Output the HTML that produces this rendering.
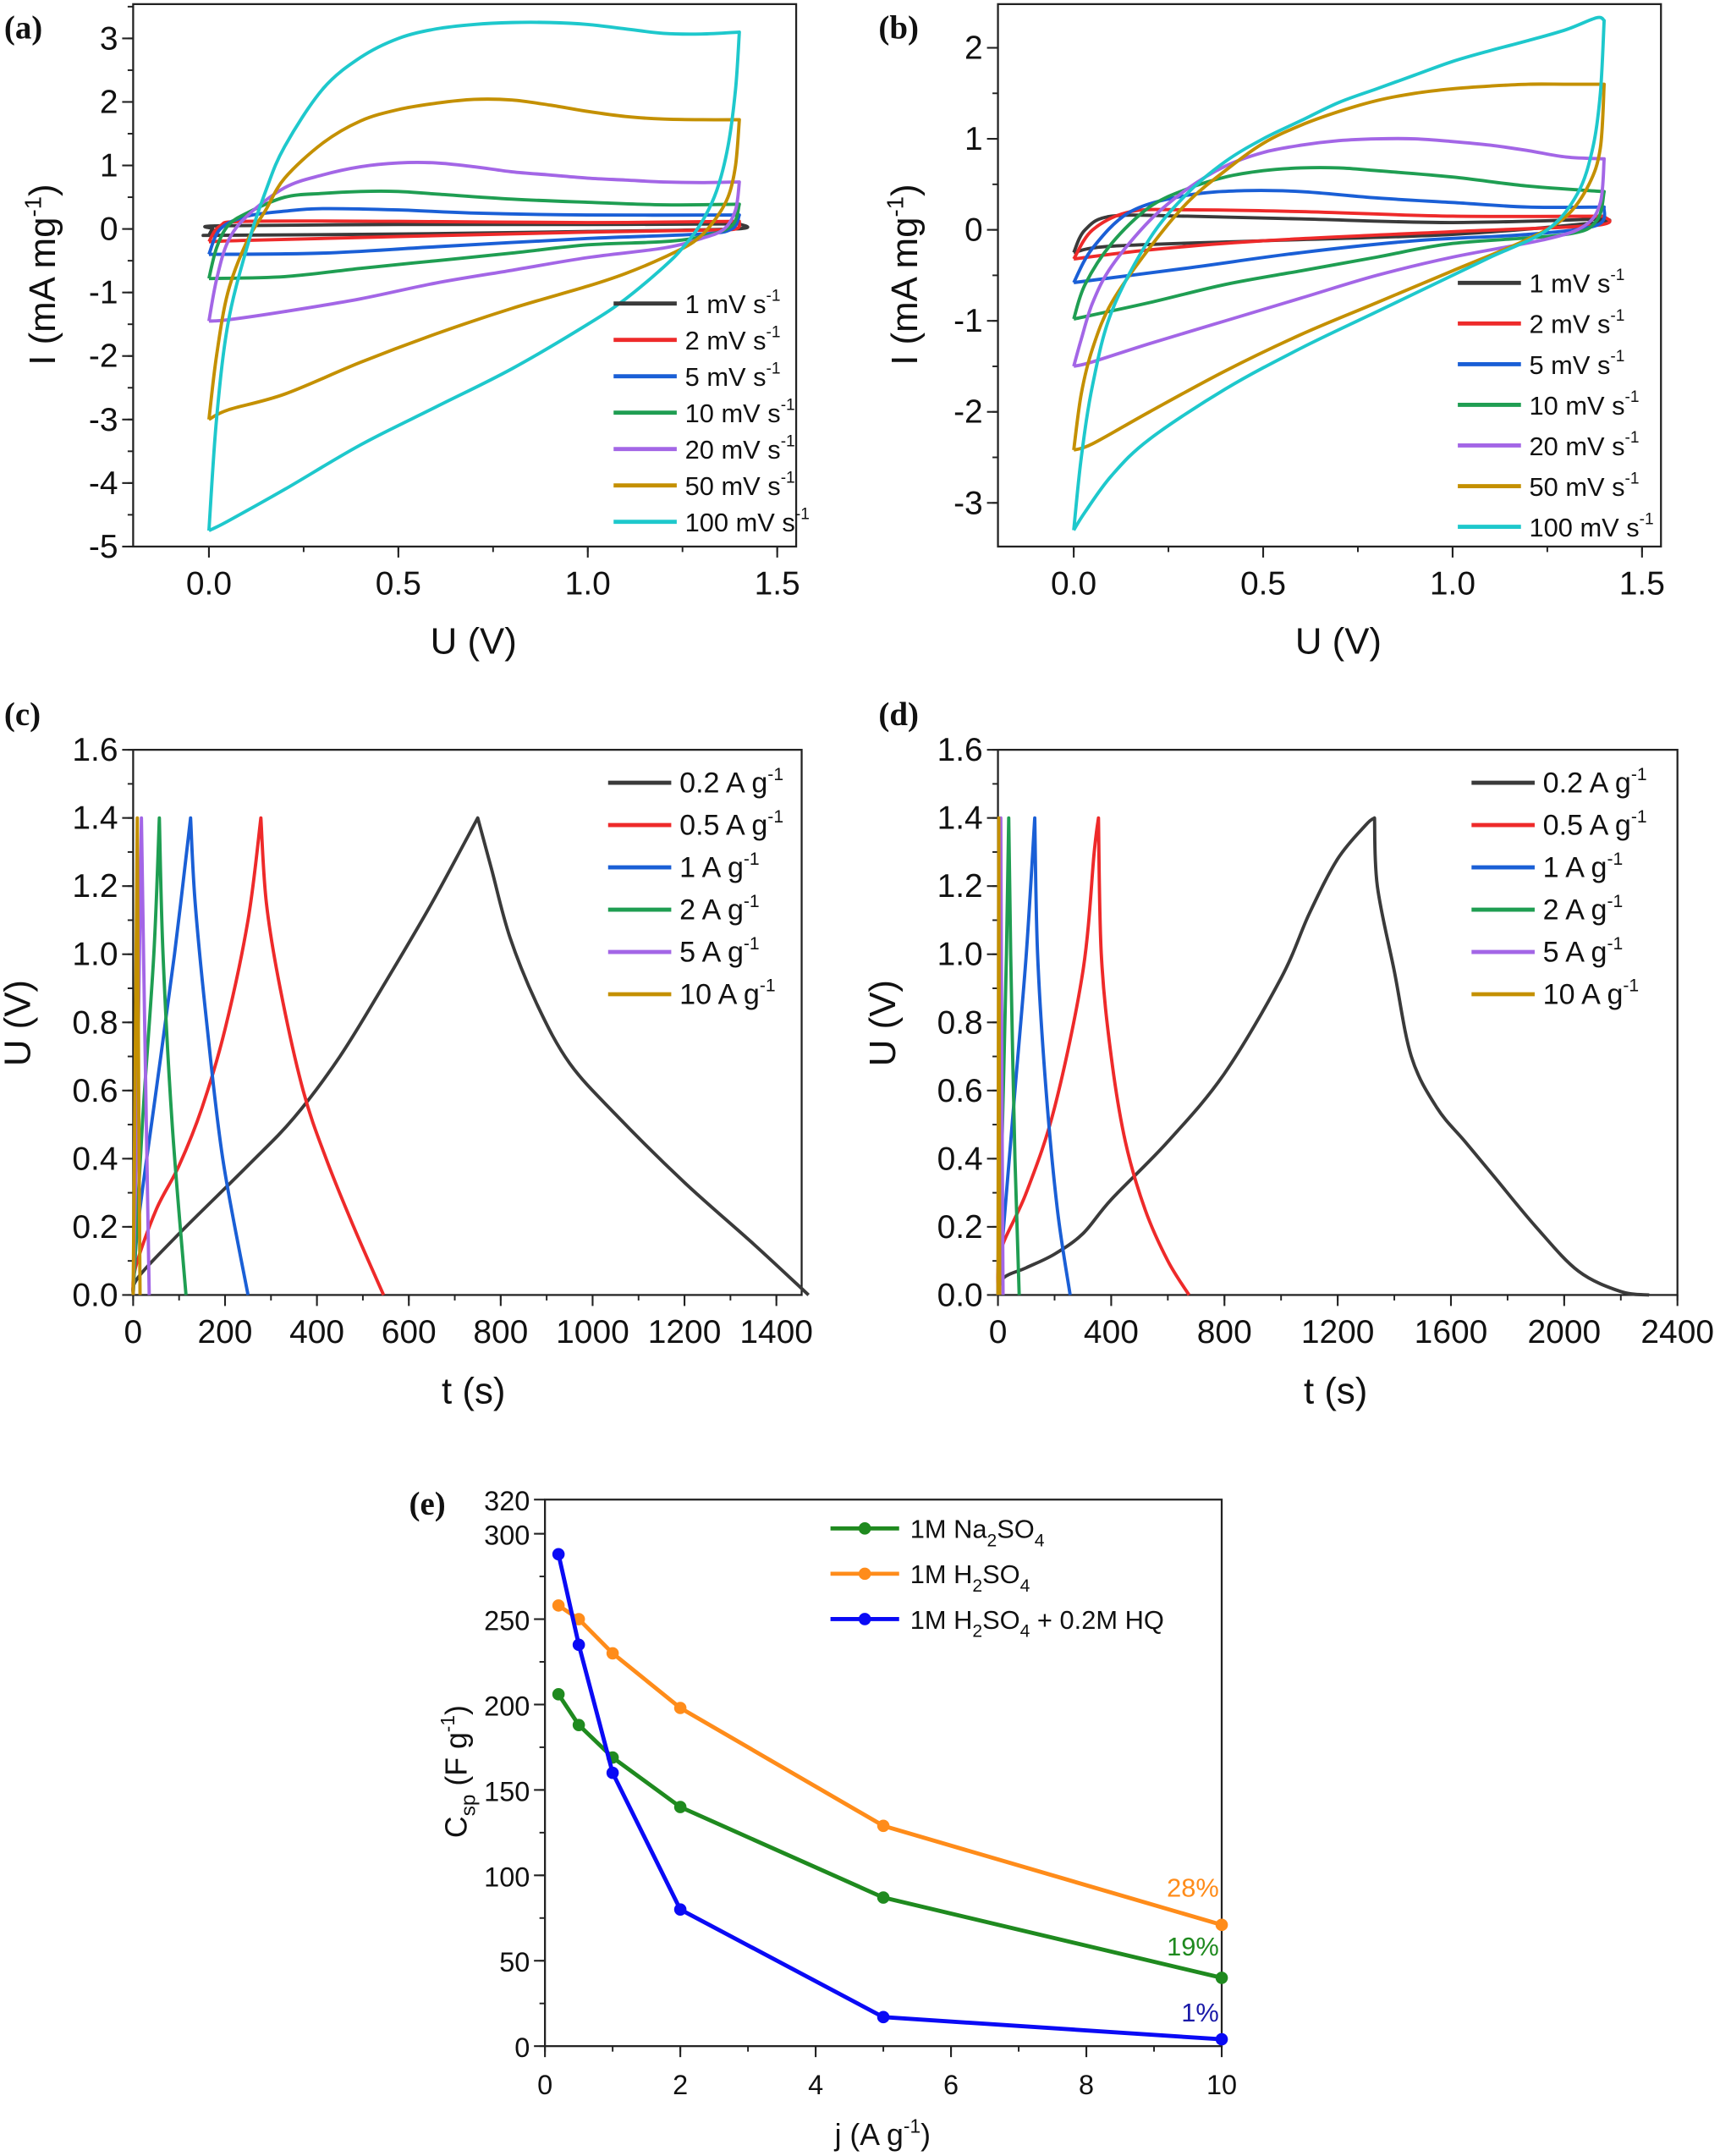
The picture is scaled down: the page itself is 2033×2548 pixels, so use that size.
<!DOCTYPE html>
<html><head><meta charset="utf-8">
<style>
html,body{margin:0;padding:0;background:#fff;}
svg{display:block;}
text{font-family:"Liberation Sans",Arial,sans-serif;fill:#111;}
.pl{font-family:"Liberation Serif",serif;font-weight:bold;font-size:24px;}
</style></head>
<body>
<svg id="fig" width="2033" height="2548" viewBox="0 0 1253 1570" preserveAspectRatio="none" xmlns="http://www.w3.org/2000/svg">
<text class="pl" x="3" y="28">(a)</text>
<text class="pl" x="640" y="28">(b)</text>
<text class="pl" x="3" y="528">(c)</text>
<text class="pl" x="640" y="528">(d)</text>
<text class="pl" x="298" y="1103">(e)</text>
</svg>
<script>
// ---------- data ----------
const cvLabels = ["1 mV s","2 mV s","5 mV s","10 mV s","20 mV s","50 mV s","100 mV s"];
const cvColors = ["#3a3a3a","#ee2a2a","#1a5fd6","#1f9e52","#a366e6","#c49000","#1ec8cc"];
const cvA_1 = [[0,-0.1],[0.01,0],[0.03,0.05],[0.5,0.07],[1.0,0.07],[1.4,0.08],[1.39,0],[1.0,-0.04],[0.5,-0.08],[0.03,-0.1],[0,-0.1]];
const cvA_2 = [[0,-0.2],[0.03,0.05],[0.1,0.12],[0.5,0.12],[1.0,0.1],[1.4,0.12],[1.39,0],[1.3,-0.02],[1.0,-0.05],[0.5,-0.12],[0.1,-0.18],[0,-0.2]];
const cvA_5 = [[0,-0.4],[0.03,0],[0.1,0.2],[0.2,0.28],[0.3,0.32],[0.5,0.3],[0.7,0.25],[1.0,0.22],[1.4,0.22],[1.38,0],[1.3,-0.08],[1.0,-0.15],[0.6,-0.28],[0.3,-0.38],[0,-0.4]];
const cvA_10 = [[0,-0.78],[0.02,-0.3],[0.05,0.05],[0.1,0.25],[0.2,0.5],[0.3,0.56],[0.4,0.59],[0.5,0.59],[0.6,0.55],[0.8,0.47],[1.0,0.42],[1.2,0.38],[1.4,0.39],[1.38,0.05],[1.3,-0.12],[1.2,-0.2],[1.0,-0.25],[0.8,-0.38],[0.6,-0.5],[0.4,-0.62],[0.2,-0.75],[0,-0.78]];
const cvA_20 = [[0,-1.45],[0.02,-0.8],[0.05,-0.2],[0.1,0.2],[0.2,0.65],[0.3,0.85],[0.4,0.98],[0.5,1.04],[0.6,1.04],[0.7,0.98],[0.8,0.9],[0.9,0.85],[1.0,0.8],[1.1,0.77],[1.2,0.74],[1.3,0.73],[1.4,0.74],[1.39,0.3],[1.36,0],[1.3,-0.15],[1.2,-0.3],[1.0,-0.45],[0.8,-0.65],[0.6,-0.85],[0.4,-1.1],[0.2,-1.3],[0.05,-1.43],[0,-1.45]];
const cvA_50 = [[0,-3.0],[0.02,-2.0],[0.05,-1.0],[0.1,-0.2],[0.15,0.3],[0.2,0.8],[0.3,1.35],[0.4,1.7],[0.5,1.88],[0.6,1.98],[0.7,2.04],[0.8,2.03],[0.9,1.95],[1.0,1.85],[1.1,1.77],[1.2,1.73],[1.3,1.72],[1.4,1.72],[1.39,1.0],[1.37,0.5],[1.33,0.1],[1.28,-0.2],[1.2,-0.45],[1.1,-0.7],[1.0,-0.9],[0.8,-1.25],[0.6,-1.65],[0.4,-2.1],[0.2,-2.6],[0.05,-2.85],[0,-3.0]];
const cvA_100 = [[0,-4.75],[0.02,-3.0],[0.05,-1.5],[0.1,-0.3],[0.15,0.6],[0.2,1.3],[0.3,2.2],[0.4,2.7],[0.5,3.0],[0.6,3.15],[0.7,3.22],[0.8,3.25],[0.9,3.25],[1.0,3.22],[1.1,3.15],[1.2,3.08],[1.3,3.07],[1.4,3.1],[1.39,2.2],[1.37,1.3],[1.34,0.6],[1.3,0.1],[1.25,-0.3],[1.2,-0.6],[1.1,-1.1],[1.0,-1.5],[0.8,-2.2],[0.6,-2.8],[0.4,-3.4],[0.2,-4.1],[0.05,-4.6],[0,-4.75]];
const cvB_1 = [[0,-0.25],[0.03,0],[0.1,0.15],[0.3,0.15],[0.6,0.12],[1.0,0.08],[1.4,0.12],[1.38,0.08],[1.0,-0.05],[0.5,-0.12],[0.1,-0.18],[0,-0.25]];
const cvB_2 = [[0,-0.32],[0.05,0],[0.15,0.2],[0.3,0.22],[0.6,0.2],[1.0,0.15],[1.4,0.15],[1.38,0.05],[1.0,-0.02],[0.5,-0.12],[0.2,-0.22],[0,-0.32]];
const cvB_5 = [[0,-0.58],[0.05,-0.2],[0.15,0.2],[0.3,0.38],[0.45,0.43],[0.6,0.42],[0.8,0.35],[1.0,0.3],[1.2,0.25],[1.4,0.25],[1.38,0.05],[1.2,-0.05],[0.9,-0.12],[0.6,-0.25],[0.3,-0.42],[0,-0.58]];
const cvB_10 = [[0,-0.98],[0.03,-0.6],[0.1,-0.15],[0.2,0.25],[0.3,0.45],[0.4,0.58],[0.5,0.65],[0.6,0.68],[0.7,0.68],[0.8,0.65],[1.0,0.58],[1.2,0.48],[1.4,0.42],[1.38,0.1],[1.3,-0.05],[1.0,-0.15],[0.8,-0.3],[0.6,-0.45],[0.4,-0.6],[0.2,-0.8],[0,-0.98]];
const cvB_20 = [[0,-1.5],[0.02,-1.2],[0.05,-0.8],[0.1,-0.4],[0.2,0.1],[0.3,0.45],[0.4,0.7],[0.5,0.85],[0.6,0.93],[0.7,0.98],[0.8,1.0],[0.9,1.0],[1.0,0.97],[1.1,0.93],[1.2,0.87],[1.3,0.8],[1.4,0.78],[1.39,0.3],[1.35,0.05],[1.25,-0.1],[1.0,-0.3],[0.8,-0.5],[0.6,-0.75],[0.4,-1.0],[0.2,-1.25],[0.05,-1.45],[0,-1.5]];
const cvB_50 = [[0,-2.42],[0.02,-1.8],[0.05,-1.3],[0.1,-0.8],[0.2,-0.2],[0.3,0.3],[0.4,0.65],[0.5,0.95],[0.6,1.15],[0.7,1.3],[0.8,1.42],[0.9,1.5],[1.0,1.55],[1.1,1.58],[1.2,1.6],[1.3,1.6],[1.4,1.6],[1.39,0.9],[1.36,0.5],[1.3,0.15],[1.2,-0.1],[1.0,-0.45],[0.8,-0.8],[0.6,-1.15],[0.4,-1.55],[0.2,-2.0],[0.05,-2.35],[0,-2.42]];
const cvB_100 = [[0,-3.3],[0.02,-2.5],[0.05,-1.7],[0.1,-0.9],[0.2,-0.1],[0.3,0.4],[0.4,0.75],[0.5,1.0],[0.6,1.2],[0.7,1.4],[0.8,1.55],[0.9,1.7],[1.0,1.85],[1.1,1.97],[1.2,2.08],[1.3,2.2],[1.38,2.33],[1.4,2.3],[1.39,1.5],[1.37,0.9],[1.33,0.4],[1.25,0],[1.1,-0.3],[1.0,-0.5],[0.8,-0.9],[0.6,-1.3],[0.4,-1.75],[0.2,-2.3],[0.1,-2.7],[0.03,-3.1],[0,-3.3]];

const gcdLabels = ["0.2 A g","0.5 A g","1 A g","2 A g","5 A g","10 A g"];
const gcdColors = ["#3a3a3a","#ee2a2a","#1a5fd6","#1f9e52","#a366e6","#c49000"];
const gcdC_02 = [[0,0],[10,0.05],[100,0.18],[250,0.38],[350,0.52],[450,0.7],[550,0.92],[650,1.15],[750,1.4],[780,1.25],[820,1.05],[880,0.85],[950,0.68],[1050,0.53],[1200,0.33],[1350,0.15],[1470,0]];
const gcdC_05 = [[0,0],[5,0.08],[50,0.25],[100,0.38],[150,0.55],[200,0.78],[250,1.1],[278,1.4],[290,1.15],[320,0.9],[370,0.6],[420,0.4],[480,0.2],[545,0]];
const gcdC_1 = [[0,0],[10,0.2],[50,0.6],[90,1.0],[125,1.4],[135,1.15],[160,0.8],[195,0.4],[250,0]];
const gcdC_2 = [[0,0],[20,0.5],[45,1.0],[57,1.4],[65,1.0],[85,0.5],[115,0]];
const gcdC_5 = [[0,0],[8,0.5],[18,1.4],[25,0.8],[35,0]];
const gcdC_10 = [[0,0],[4,0.6],[9,1.4],[12,0.6],[15,0]];
const gcdD_02 = [[0,0],[20,0.05],[100,0.08],[200,0.12],[300,0.18],[400,0.28],[600,0.45],[800,0.65],[1000,0.93],[1100,1.12],[1200,1.28],[1300,1.38],[1330,1.4],[1340,1.2],[1400,0.95],[1460,0.7],[1550,0.55],[1650,0.45],[1750,0.35],[1900,0.2],[2050,0.07],[2200,0.01],[2300,0]];
const gcdD_05 = [[0,0],[10,0.13],[100,0.3],[200,0.55],[300,0.95],[340,1.3],[355,1.4],[365,1.0],[400,0.7],[450,0.45],[520,0.25],[600,0.1],[675,0]];
const gcdD_1 = [[0,0],[20,0.2],[60,0.6],[100,1.0],[130,1.4],[140,1.0],[170,0.6],[210,0.25],[255,0]];
const gcdD_2 = [[0,0],[10,0.3],[30,1.0],[38,1.4],[45,1.0],[60,0.4],[75,0]];
const gcdD_5 = [[0,0],[5,0.6],[10,1.4],[14,0.6],[18,0]];
const gcdD_10 = [[0,0],[3,1.4],[6,0]];

const rateJ = [0.2,0.5,1,2,5,10];
const cspNa = [206,188,169,140,87,40];
const cspH = [258,250,230,198,129,71];
const cspHQ = [288,235,160,80,17,4];

// ---------- drawing ----------
const NS = "http://www.w3.org/2000/svg";
const svg = document.getElementById('fig');
function el(tag, attrs, parent){
  const e = document.createElementNS(NS, tag);
  for (const k in attrs) e.setAttribute(k, attrs[k]);
  (parent||svg).appendChild(e);
  return e;
}
function axes(o){
  const sx = v => o.px0 + (v - o.x0) / (o.x1 - o.x0) * (o.px1 - o.px0);
  const sy = v => o.py0 - (v - o.y0) / (o.y1 - o.y0) * (o.py0 - o.py1);
  const g = el('g', {});
  
  
  const fr = el('rect', {x:o.px0, y:o.py1, width:o.px1-o.px0, height:o.py0-o.py1, fill:'none', stroke:'#222', 'stroke-width':1.4}, g);
  
  
  for (let v = o.xmin0; v <= o.x1 + 1e-9; v += o.xminor) {
    const X = sx(v);
    el('line', {x1:X, x2:X, y1:o.py0, y2:o.py0+4, stroke:'#222', 'stroke-width':1.2}, g);
  }
  for (const v of o.xt) {
    const X = sx(v);
    el('line', {x1:X, x2:X, y1:o.py0, y2:o.py0+8, stroke:'#222', 'stroke-width':1.3}, g);
    const t = el('text', {x:X, y:o.py0+35, 'text-anchor':'middle', 'font-size':o.fs||24}, g);
    t.textContent = o.xfmt(v);
    
    
  }
  for (let v = o.ymin0; v <= o.y1 + 1e-9; v += o.yminor) {
    const Y = sy(v);
    el('line', {x1:o.px0-4, x2:o.px0, y1:Y, y2:Y, stroke:'#222', 'stroke-width':1.2}, g);
  }
  for (const v of o.yt) {
    const Y = sy(v);
    el('line', {x1:o.px0-8, x2:o.px0, y1:Y, y2:Y, stroke:'#222', 'stroke-width':1.3}, g);
    const t = el('text', {x:o.px0-11, y:Y+8, 'text-anchor':'end', 'font-size':o.fs||24}, g);
    t.textContent = o.yfmt(v);
    
    
  }
  return {sx, sy};
}
function smoothSeg(P){
  let d = '';
  for (let i = 0; i < P.length - 1; i++) {
    const p0 = P[i-1] || P[i], p1 = P[i], p2 = P[i+1], p3 = P[i+2] || P[i+1];
    const c1 = [p1[0] + (p2[0]-p0[0])/6, p1[1] + (p2[1]-p0[1])/6];
    const c2 = [p2[0] - (p3[0]-p1[0])/6, p2[1] - (p3[1]-p1[1])/6];
    d += ' C' + c1[0].toFixed(2)+' '+c1[1].toFixed(2)+' '+c2[0].toFixed(2)+' '+c2[1].toFixed(2)+' '+p2[0].toFixed(2)+' '+p2[1].toFixed(2);
  }
  return d;
}
function line(pts, s, color, name, w, mode){
  const P = pts.map(p=>[s.sx(p[0]), s.sy(p[1])]);
  let d;
  if (mode) {
    let brk = 0;
    pts.forEach((p,i)=>{ const k = mode==='x'?0:1; if (p[k] > pts[brk][k]) brk = i; });
    const A = P.slice(0, brk+1), B = P.slice(brk);
    d = 'M' + P[0][0].toFixed(2) + ' ' + P[0][1].toFixed(2) + smoothSeg(A) + smoothSeg(B);
  } else {
    d = P.map((p,i)=>(i?'L':'M')+p[0].toFixed(2)+' '+p[1].toFixed(2)).join(' ');
  }
  const p = el('path', {d:d, fill:'none', stroke:color, 'stroke-width':w||2.6, 'stroke-linejoin':'round'});
  
  
  return p;
}
function title(txt, x, y, rot, name, size){
  const t = el('text', {x:x, y:y, 'text-anchor':'middle', 'font-size':size||27});
  if (rot) t.setAttribute('transform', 'rotate(-90 '+x+' '+y+')');
  t.innerHTML = txt;
  
  
}
function legend(labels, colors, lx, ly, step, name, fs, sup){
  labels.forEach((lab,i)=>{
    const y = ly + i*step;
    const l = el('line', {x1:lx, x2:lx+46, y1:y, y2:y, stroke:colors[i], 'stroke-width':3});
    
    
    const t = el('text', {x:lx+52, y:y+7, 'font-size':fs});
    t.innerHTML = lab + '<tspan dy="-9" font-size="' + (fs*0.62) + '">' + sup + '</tspan>';
    
    
  });
}
const f1 = v => v.toFixed(1), f0 = v => String(Math.round(v));

// (a)
const sA = axes({name:'cv-a', x0:-0.2, x1:1.55, px0:97, px1:580, y0:-5, y1:3.54, py0:398, py1:3,
  xt:[0,0.5,1,1.5], xmin0:0, xminor:0.25, yt:[-5,-4,-3,-2,-1,0,1,2,3], ymin0:-5, yminor:0.5, xfmt:f1, yfmt:f0});
[cvA_1,cvA_2,cvA_5,cvA_10,cvA_20,cvA_50,cvA_100].forEach((c,i)=>line(c, sA, cvColors[i], 'cv-a-curve-'+i, 2.4, 'x'));
legend(cvLabels, cvColors, 447, 221, 26.5, 'cv-a-legend', 19, '-1');
title('U (V)', 345, 476, false, 'cv-a-x-title');
title('I (mA mg<tspan dy="-10" font-size="17">-1</tspan><tspan dy="10">)</tspan>', 40, 200, true, 'cv-a-y-title');

// (b)
const sB = axes({name:'cv-b', x0:-0.2, x1:1.55, px0:727, px1:1210, y0:-3.48, y1:2.48, py0:398, py1:3,
  xt:[0,0.5,1,1.5], xmin0:0, xminor:0.25, yt:[-3,-2,-1,0,1,2], ymin0:-3, yminor:0.5, xfmt:f1, yfmt:f0});
[cvB_1,cvB_2,cvB_5,cvB_10,cvB_20,cvB_50,cvB_100].forEach((c,i)=>line(c, sB, cvColors[i], 'cv-b-curve-'+i, 2.4, 'x'));
legend(cvLabels, cvColors, 1062, 206, 29.6, 'cv-b-legend', 19, '-1');
title('U (V)', 975, 476, false, 'cv-b-x-title');
title('I (mA mg<tspan dy="-10" font-size="17">-1</tspan><tspan dy="10">)</tspan>', 668, 200, true, 'cv-b-y-title');

// (c)
const sC = axes({name:'gcd-c', x0:0, x1:1455, px0:97, px1:584, y0:0, y1:1.6, py0:943, py1:546,
  xt:[0,200,400,600,800,1000,1200,1400], xmin0:0, xminor:100, yt:[0,0.2,0.4,0.6,0.8,1.0,1.2,1.4,1.6], ymin0:0, yminor:0.1, xfmt:f0, yfmt:f1});
[gcdC_02,gcdC_05,gcdC_1,gcdC_2,gcdC_5,gcdC_10].forEach((c,i)=>line(c, sC, gcdColors[i], 'gcd-c-curve-'+i, 2.4, 'y'));
legend(gcdLabels, gcdColors, 443, 570, 30.8, 'gcd-c-legend', 21, '-1');
title('t (s)', 345, 1022, false, 'gcd-c-x-title');
title('U (V)', 22, 745, true, 'gcd-c-y-title');

// (d)
const sD = axes({name:'gcd-d', x0:0, x1:2400, px0:727, px1:1222, y0:0, y1:1.6, py0:943, py1:546,
  xt:[0,400,800,1200,1600,2000,2400], xmin0:0, xminor:200, yt:[0,0.2,0.4,0.6,0.8,1.0,1.2,1.4,1.6], ymin0:0, yminor:0.1, xfmt:f0, yfmt:f1});
[gcdD_02,gcdD_05,gcdD_1,gcdD_2,gcdD_5,gcdD_10].forEach((c,i)=>line(c, sD, gcdColors[i], 'gcd-d-curve-'+i, 2.4, 'y'));
legend(gcdLabels, gcdColors, 1072, 570, 30.8, 'gcd-d-legend', 21, '-1');
title('t (s)', 973, 1022, false, 'gcd-d-x-title');
title('U (V)', 652, 745, true, 'gcd-d-y-title');

// (e)
const sE = axes({name:'rate-e', x0:0, x1:10, px0:397, px1:890, y0:0, y1:320, py0:1490, py1:1092, fs:20,
  xt:[0,2,4,6,8,10], xmin0:0, xminor:1, yt:[0,50,100,150,200,250,300,320], ymin0:0, yminor:25, xfmt:f0, yfmt:f0});
const eSeries = [[cspNa,'#1f8a1f','na2so4'],[cspH,'#ff8c1a','h2so4'],[cspHQ,'#0a0af5','h2so4-hq']];
eSeries.forEach(([vals,col,nm])=>{
  line(rateJ.map((x,i)=>[x,vals[i]]), sE, col, 'rate-e-line-'+nm, 3);
  rateJ.forEach((x,i)=>{
    const c = el('circle', {cx:sE.sx(x), cy:sE.sy(vals[i]), r:4.5, fill:col});
    
    
  });
});
const eLeg = [['1M Na<tspan dy="6" font-size="13">2</tspan><tspan dy="-6">SO</tspan><tspan dy="6" font-size="13">4</tspan>','#1f8a1f'],
  ['1M H<tspan dy="6" font-size="13">2</tspan><tspan dy="-6">SO</tspan><tspan dy="6" font-size="13">4</tspan>','#ff8c1a'],
  ['1M H<tspan dy="6" font-size="13">2</tspan><tspan dy="-6">SO</tspan><tspan dy="6" font-size="13">4</tspan><tspan dy="-6"> + 0.2M HQ</tspan>','#0a0af5']];
eLeg.forEach(([lab,col],i)=>{
  const y = 1113 + i*33;
  const l = el('line', {x1:605, x2:655, y1:y, y2:y, stroke:col, 'stroke-width':3});
  
  
  const c = el('circle', {cx:630, cy:y, r:4.5, fill:col});
  
  
  const t = el('text', {x:663, y:y+7, 'font-size':19});
  t.innerHTML = lab;
  
  
});
[['28%','#ff8c1a',1381],['19%','#1f8a1f',1424],['1%','#1a1aa8',1472]].forEach(([s,col,y])=>{
  const t = el('text', {x:888, y:y, 'text-anchor':'end', 'font-size':19, fill:col});
  t.style.fill = col;
  t.textContent = s;
  
  
});
title('j (A g<tspan dy="-9" font-size="14">-1</tspan><tspan dy="9">)</tspan>', 643, 1562, false, 'rate-e-x-title', 22);
title('C<tspan dy="6" font-size="15">sp</tspan><tspan dy="-6"> (F g</tspan><tspan dy="-9" font-size="14">-1</tspan><tspan dy="9">)</tspan>', 340, 1290, true, 'rate-e-y-title', 22);
</script>
</body></html>
